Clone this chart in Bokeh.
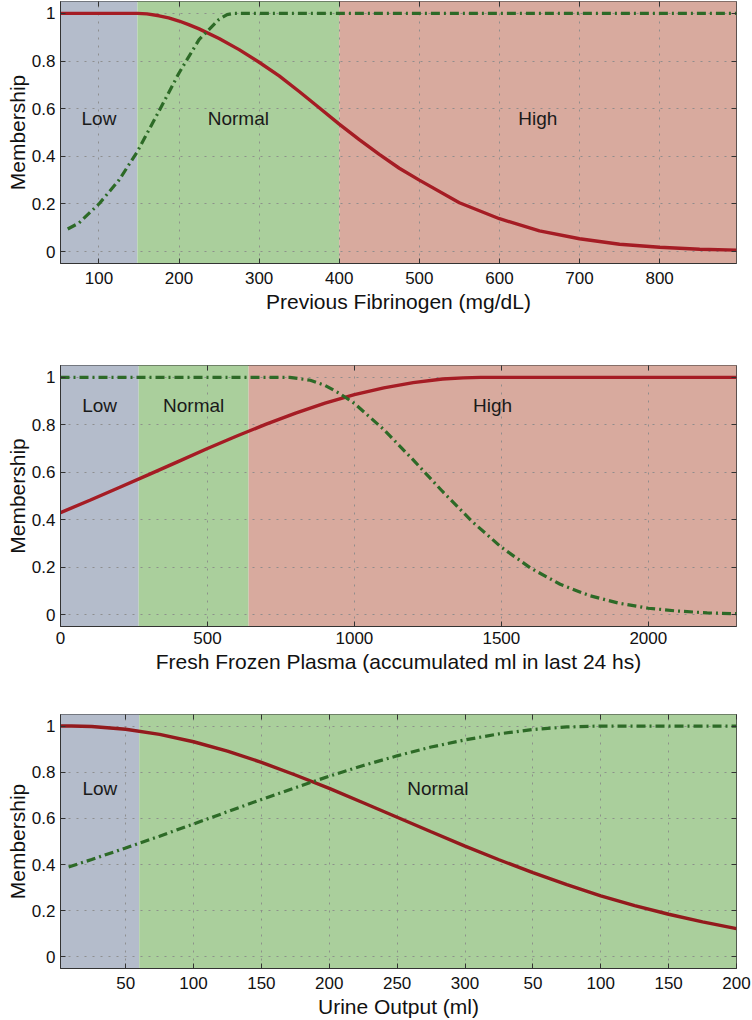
from bokeh.plotting import figure
from bokeh.layouts import column
from bokeh.models import (Range1d, FixedTicker, LinearAxis, PrintfTickFormatter,
                          CustomLabelingPolicy)
from bokeh.core.properties import value
from bokeh.embed import file_html
from bokeh.resources import INLINE

FONT = "Liberation Sans"
REGION_COLORS = {"Low": "#b4bccb", "Normal": "#aacf9c", "High": "#d8aa9e"}
RED = "#a51c24"
RED_DARK = "#931a1d"
GREEN = "#2d6a27"

# ---------------- Panel 1: Previous Fibrinogen ----------------
fib_names = ["Low", "Normal", "High"]
fib_edges = [52, 148, 400, 896]
fib_ticks = [100, 200, 300, 400, 500, 600, 700, 800]
fib_red_x = [52, 75, 100, 125, 148, 160, 175, 187, 200, 212, 225, 250, 275, 300, 325, 350,
             375, 400, 425, 450, 475, 500, 550, 600, 650, 700, 750, 800, 850, 896]
fib_red_y = [1.0, 1.0, 1.0, 1.0, 1.0, 0.998, 0.99, 0.981, 0.968, 0.953, 0.935, 0.895,
             0.848, 0.795, 0.738, 0.672, 0.604, 0.535, 0.470, 0.408, 0.350, 0.300, 0.205,
             0.138, 0.087, 0.054, 0.031, 0.018, 0.010, 0.006]
fib_green_x = [61, 75, 100, 125, 148, 175, 200, 225, 250, 260, 268, 300, 400, 500, 600,
               700, 800, 896]
fib_green_y = [0.095, 0.12, 0.20, 0.30, 0.42, 0.59, 0.75, 0.89, 0.975, 0.995, 1.0, 1.0,
               1.0, 1.0, 1.0, 1.0, 1.0, 1.0]

# ---------------- Panel 2: Fresh Frozen Plasma ----------------
ffp_names = ["Low", "Normal", "High"]
ffp_edges = [0, 266, 640, 2300]
ffp_ticks = [0, 500, 1000, 1500, 2000]
ffp_red_x = [0, 100, 200, 300, 400, 500, 600, 700, 800, 900, 1000, 1100, 1200, 1300,
             1370, 1430, 1600, 1800, 2000, 2300]
ffp_red_y = [0.43, 0.482, 0.536, 0.590, 0.645, 0.70, 0.753, 0.803, 0.849, 0.891, 0.927,
             0.956, 0.978, 0.993, 0.998, 1.0, 1.0, 1.0, 1.0, 1.0]
ffp_green_x = [0, 200, 400, 600, 780, 850, 900, 950, 1000, 1100, 1200, 1300, 1400, 1500,
               1600, 1700, 1800, 1900, 2000, 2100, 2200, 2300]
ffp_green_y = [1.0, 1.0, 1.0, 1.0, 1.0, 0.988, 0.966, 0.932, 0.89, 0.780, 0.652, 0.519,
               0.393, 0.284, 0.196, 0.128, 0.080, 0.048, 0.027, 0.015, 0.0075, 0.004]

# ---------------- Panel 3: Urine Output ----------------
uo_names = ["Low", "Normal"]
uo_edges = [2, 60, 500]
uo_ticks = [50, 100, 150, 200, 250, 300, 350, 400, 450, 500]
uo_tick_labels = ["50", "100", "150", "200", "250", "300", "50", "100", "150", "200"]
uo_red_x = [2, 10, 25, 50, 75, 100, 125, 150, 175, 200, 225, 250, 275, 300, 325, 350,
            375, 400, 425, 450, 475, 500]
uo_red_y = [1.0, 1.0, 0.998, 0.986, 0.964, 0.932, 0.891, 0.843, 0.788, 0.730, 0.668,
            0.605, 0.542, 0.480, 0.421, 0.365, 0.313, 0.265, 0.222, 0.185, 0.152, 0.123]
uo_green_x = [8, 25, 50, 75, 100, 125, 150, 175, 200, 225, 250, 275, 300, 325, 350, 375,
              400, 450, 500]
uo_green_y = [0.39, 0.422, 0.472, 0.523, 0.576, 0.629, 0.682, 0.733, 0.783, 0.829, 0.871,
              0.909, 0.94, 0.966, 0.985, 0.996, 1.0, 1.0, 1.0]

y_ticks = [0, 0.2, 0.4, 0.6, 0.8, 1]

HIDE_ALL = "for (const i of indices) { indices.unset(i) }\nreturn indices"


def style_axis(ax):
    ax.major_tick_in = 5
    ax.major_tick_out = 0
    ax.minor_tick_line_color = None
    ax.axis_line_color = "#333333"
    ax.major_tick_line_color = "#333333"
    ax.major_label_text_font = FONT
    ax.major_label_text_font_size = "17px"
    ax.major_label_text_color = "#111111"
    ax.axis_label_text_font = FONT
    ax.axis_label_text_font_size = "21px"
    ax.axis_label_text_font_style = "normal"
    ax.axis_label_text_color = "#111111"


def mirror_axis(ticks):
    return LinearAxis(ticker=FixedTicker(ticks=ticks), major_label_text_font_size="0px",
                      major_label_policy=CustomLabelingPolicy(code=HIDE_ALL),
                      major_label_standoff=0, major_tick_in=5, major_tick_out=0,
                      minor_tick_line_color=None, axis_line_color=None,
                      major_tick_line_color="#333333")


def panel(names, edges, xr, xticks, xlabel, rx, ry, gx, gy, label_y, height,
          top_border, bottom_border, red_color, overrides=None, x_standoff=8):
    p = figure(width=752, height=height, x_range=Range1d(*xr), y_range=Range1d(-0.05, 1.05),
               output_backend="svg", toolbar_location=None,
               min_border_left=60, min_border_right=16, min_border_top=top_border,
               min_border_bottom=bottom_border)
    p.outline_line_color = "#333333"
    p.outline_line_width = 1
    p.background_fill_color = "white"
    p.border_fill_color = "white"

    lefts = edges[:-1]
    rights = edges[1:]
    colors = [REGION_COLORS[n] for n in names]
    p.quad(left=lefts, right=rights, bottom=-1, top=2, fill_color=colors,
           line_color=None, level="image")

    p.line(rx, ry, line_color=red_color, line_width=3.4)
    p.line(gx, gy, line_color=GREEN, line_width=3.2, line_dash="9 4 2 4")

    mids = [(a + b) / 2 for a, b in zip(lefts, rights)]
    p.text(x=mids, y=[label_y] * len(mids), text=names, text_font=value(FONT),
           text_font_size="19px", text_align="center", text_baseline="middle",
           text_color="#1a1a1a")

    for g in (p.xgrid[0], p.ygrid[0]):
        g.grid_line_color = "#8a8a8a"
        g.grid_line_dash = "2 6"
        g.grid_line_width = 1
        g.grid_line_alpha = 0.9
    p.xgrid[0].ticker = FixedTicker(ticks=xticks)
    p.ygrid[0].ticker = FixedTicker(ticks=y_ticks)

    p.xaxis.ticker = FixedTicker(ticks=xticks)
    p.yaxis.ticker = FixedTicker(ticks=y_ticks)
    p.yaxis.formatter = PrintfTickFormatter(format="%g")
    if overrides:
        p.xaxis.major_label_overrides = overrides
    p.xaxis.axis_label = xlabel
    p.yaxis.axis_label = "Membership"
    style_axis(p.xaxis[0])
    style_axis(p.yaxis[0])
    p.xaxis.major_label_standoff = x_standoff
    p.xaxis.axis_label_standoff = 3
    p.yaxis.major_label_standoff = 5
    p.yaxis.axis_label_standoff = 0

    p.add_layout(mirror_axis(xticks), "above")
    p.add_layout(mirror_axis(y_ticks), "right")
    return p


p1 = panel(fib_names, fib_edges, (52, 896), fib_ticks, "Previous Fibrinogen (mg/dL)",
           fib_red_x, fib_red_y, fib_green_x, fib_green_y, 0.56, 365, 1, 102, RED)
p2 = panel(ffp_names, ffp_edges, (0, 2300), ffp_ticks,
           "Fresh Frozen Plasma (accumulated ml in last 24 hs)",
           ffp_red_x, ffp_red_y, ffp_green_x, ffp_green_y, 0.88, 349, 0, 88, RED,
           x_standoff=5)
p3 = panel(uo_names, uo_edges, (2, 500), uo_ticks, "Urine Output (ml)",
           uo_red_x, uo_red_y, uo_green_x, uo_green_y, 0.73, 306, 0, 49, RED_DARK,
           overrides={t: l for t, l in zip(uo_ticks, uo_tick_labels)})

layout = column(p1, p2, p3, spacing=0)

open("out.html", "w").write(file_html(layout, INLINE))
